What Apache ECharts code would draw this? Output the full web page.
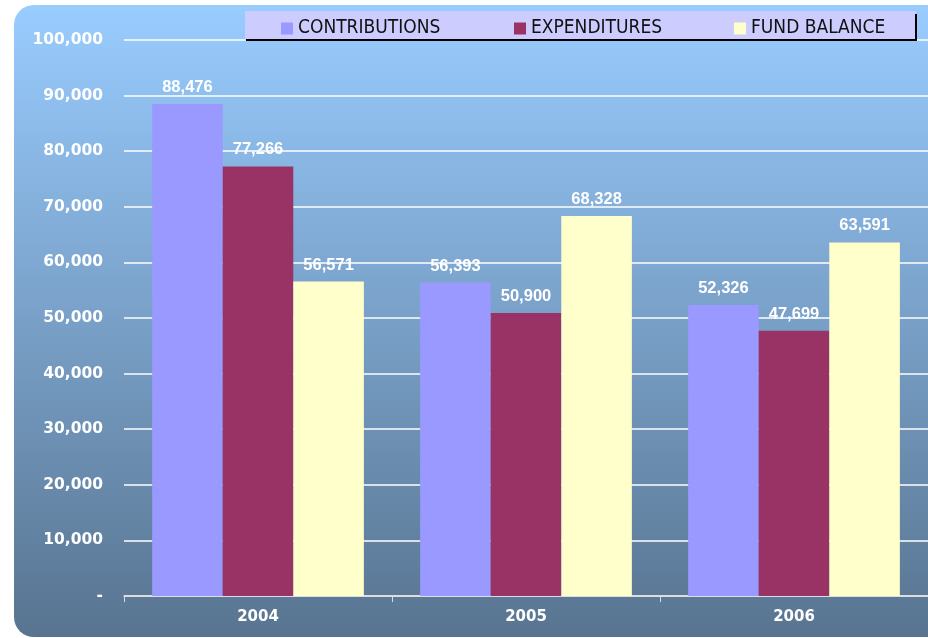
<!DOCTYPE html>
<html><head><meta charset="utf-8">
<script src="https://cdn.jsdelivr.net/npm/echarts@6/dist/echarts.min.js"></script>
<style>html,body{margin:0;padding:0;background:#fff}#c{width:928px;height:638px}</style>
</head><body><div id="c"></div>
<script>
const years = ['2004', '2005', '2006'];
const contributions = [88476, 56393, 52326];
const expenditures = [77266, 50900, 47699];
const fundBalance = [56571, 68328, 63591];
const seriesNames = ['CONTRIBUTIONS', 'EXPENDITURES', 'FUND BALANCE'];
const colors = ['#9999FF', '#993366', '#FFFFCC'];

const chart = echarts.init(document.getElementById('c'));
const fmt = v => v === 0 ? '-' : v.toLocaleString('en-US');
const legendFont = {fontFamily: '"DejaVu Sans Condensed", "DejaVu Sans", sans-serif', fontSize: 19, color: '#111'};
function mkLegend(i, left) {
  return {z: 50, data: [seriesNames[i]], left: left, top: 19, itemWidth: 12, itemHeight: 12, itemGap: 0,
    icon: 'rect', textStyle: legendFont, padding: 0, selectedMode: false};
}
const labelStyle = {show: true, position: 'top', distance: 8, color: '#fff', fontWeight: 'bold',
  fontFamily: '"Liberation Sans", Arial, sans-serif', fontSize: 16.5, formatter: p => fmt(p.value)};
chart.setOption({
  animation: false,
  graphic: [
    {type: 'rect', z: -10, silent: true, shape: {x: 14, y: 5, width: 960, height: 632, r: 20},
      style: {fill: new echarts.graphic.LinearGradient(0, 0, 0, 1, [{offset: 0, color: '#99CCFF'}, {offset: 1, color: '#587490'}])}},
    {type: 'rect', z: 1, silent: true, shape: {x: 245, y: 11, width: 671, height: 29}, style: {fill: '#CCCCFF'}},
    {type: 'polyline', z: 2, silent: true, shape: {points: [[246, 40], [916, 40], [916, 14]]}, style: {stroke: '#000', lineWidth: 2, fill: null}}
  ],
  color: colors,
  legend: [mkLegend(0, 281), mkLegend(1, 514), mkLegend(2, 734)],
  grid: {left: 124, right: 0, top: 40, bottom: 42},
  xAxis: {type: 'category', data: years,
    axisLine: {lineStyle: {color: '#DDDDDD', width: 1.5}},
    axisTick: {show: true, length: 6, lineStyle: {color: '#DDDDDD'}},
    axisLabel: {color: '#fff', fontWeight: 'bold', fontSize: 15, fontFamily: '"DejaVu Sans", Verdana, sans-serif', margin: 14}},
  yAxis: {type: 'value', min: 0, max: 100000, interval: 10000,
    axisLine: {show: false}, axisTick: {show: false},
    splitLine: {lineStyle: {color: '#FFFFFF', width: 1.5}},
    axisLabel: {color: '#fff', fontWeight: 'bold', fontSize: 15.5, fontFamily: '"DejaVu Sans", Verdana, sans-serif', margin: 21, formatter: fmt}},
  series: [
    {name: seriesNames[0], type: 'bar', data: contributions, barGap: '0%', barCategoryGap: '21%', label: labelStyle},
    {name: seriesNames[1], type: 'bar', data: expenditures, barGap: '0%', barCategoryGap: '21%', label: labelStyle},
    {name: seriesNames[2], type: 'bar', data: fundBalance, barGap: '0%', barCategoryGap: '21%', label: labelStyle}
  ]
});
</script></body></html>
